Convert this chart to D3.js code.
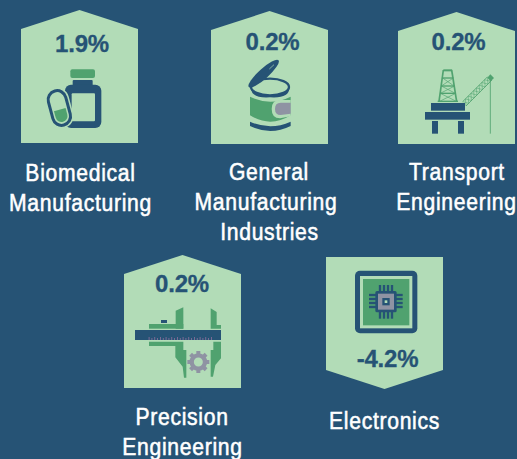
<!DOCTYPE html>
<html><head><meta charset="utf-8">
<script src="https://cdn.jsdelivr.net/npm/d3@7"></script>
<style>html,body{margin:0;padding:0;background:#265375}svg{display:block}</style>
</head><body><svg id="c" width="517" height="459"></svg>
<script>
const categories = [["Biomedical","Manufacturing"],["General","Manufacturing","Industries"],["Transport","Engineering"],["Precision","Engineering"],["Electronics"]];
const values = [1.9,0.2,0.2,0.2,-4.2];
const icons = ["bottle","can","rig","caliper","chip"];

const NAVY="#265375",LIGHT="#b2dcb7",GREEN="#50a26f",GREY="#8f93a3",PURPLE="#8a6f9c";
const layout = [
 {x:21,top:10,h:133,lx:[80.5,80.5],ly:181,vx:82,vy:52,crop:[0,0]},
 {x:211,top:11,h:133,lx:[269,266,269.5],ly:180,vx:272.5,vy:50,crop:[190,0]},
 {x:398,top:12,h:132,lx:[457,456.5],ly:180,vx:458.5,vy:50,crop:[380,0]},
 {x:124,top:255,h:133,lx:[182,182.5],ly:425,vx:182,vy:292,crop:[110,250]},
 {x:326,top:257,h:132,lx:[384.5],ly:429,vx:387.5,vy:367,crop:[310,250]}
];
const W=117,NOTCH=19;
const svg=d3.select("#c");
svg.append("rect").attr("width",517).attr("height",459).attr("fill",NAVY);
const line=d3.line();
const fmt=d3.format(".1f");

function rect(g,x0,y0,x1,y1,f,r){return g.append("rect").attr("x",x0).attr("y",y0).attr("width",x1-x0).attr("height",y1-y0).attr("fill",f).attr("rx",r||0)}
function poly(g,p,f){return g.append("path").attr("d",line(p)+"Z").attr("fill",f)}
function seg(g,a,b,c,w){return g.append("path").attr("d",line([a,b])).attr("stroke",c).attr("stroke-width",w).attr("fill","none")}

const draw={
 bottle(g){
  rect(g,211,208,285,234,GREEN,6);
  rect(g,218,240,278,260,NAVY,3);
  rect(g,195,254,304,384,NAVY,18);
  rect(g,215,280,285,364,LIGHT,3);
  const p=g.append("g").attr("transform","rotate(-15 178 324)");
  rect(p,142,262,214,386,LIGHT,36);
  rect(p,151,271,205,377,LIGHT,27).attr("stroke",NAVY).attr("stroke-width",9);
  p.append("path").attr("d","M160 329H196V349A18 18 0 0 1 160 349Z").attr("fill",GREEN);
 },
 can(g){
  g.append("path").attr("d","M180 290Q241 320 302 290V346Q241 384 180 346Z").attr("fill",GREEN);
  g.append("path").attr("d","M180 365Q241 392 302 365V378Q241 408 180 378Z").attr("fill",NAVY);
  g.append("path").attr("d","M302 300H270Q245 300 245 327Q245 355 270 355L302 349Z").attr("fill",LIGHT);
  g.append("path").attr("d","M302 308H272Q255 308 255 326Q255 345 272 345L302 341Z").attr("fill",GREY);
  g.append("ellipse").attr("cx",240).attr("cy",261).attr("rx",57).attr("ry",25)
   .attr("fill",LIGHT).attr("stroke",NAVY).attr("stroke-width",7);
  g.append("path").attr("d","M183 262Q186 280 240 286Q296 280 298 262Q300 296 240 292Q182 296 183 262Z").attr("fill",NAVY);
  g.append("ellipse").attr("cx",221).attr("cy",221).attr("rx",60).attr("ry",15)
   .attr("transform","rotate(-42 221 221)").attr("fill",NAVY);
  seg(g,[238,207],[252,194],LIGHT,2);
 },
 rig(g){
  const G=GREEN;
  seg(g,[190,210],[177,305],G,5);
  seg(g,[215,210],[230,305],G,5);
  rect(g,190,208,216,214,G);
  rect(g,186,232,220,236,G);
  rect(g,183,256,224,260,G);
  rect(g,180,278,227,282,G);
  seg(g,[188,234],[222,258],G,2);seg(g,[220,234],[184,258],G,2);
  seg(g,[184,258],[226,280],G,2);seg(g,[224,258],[181,280],G,2);
  seg(g,[181,280],[229,304],G,2);seg(g,[227,280],[179,304],G,2);
  rect(g,173,302,234,306,G);
  seg(g,[248,305],[322,231],G,2.5);
  seg(g,[258,318],[336,240],G,2.5);
  d3.range(9).forEach(k=>{
    const t=k/9,ax=248+t*74,ay=305-t*74,bx=ax+10,by=ay+13,cx=ax+8.2+10,cy=ay-8.2+13;
    seg(g,[ax,ay],[cx,cy],G,1.6);
    seg(g,[bx,by],[ax+8.2,ay-8.2],G,1.6);
  });
  poly(g,[[322,233],[331,223],[342,234],[332,244]],G);
  seg(g,[331,240],[331,401],G,2.5);
  rect(g,153,309,255,332,NAVY);
  rect(g,135,336,270,359,NAVY);
  rect(g,156,363,174,401,NAVY);
  rect(g,234,363,252,401,NAVY);
 },
 caliper(g){
  rect(g,117,222,220,236,GREEN);
  poly(g,[[197,182],[220,172],[220,236],[197,236]],GREEN);
  poly(g,[[302,175],[320,186],[320,225],[333,225],[333,236],[302,236]],GREEN);
  rect(g,153,210,171,219,NAVY);
  rect(g,75,240,333,270,NAVY);
  d3.range(116,306,8.5).forEach((x,k)=>rect(g,x,k%2?264:261,x+2.5,270,PURPLE));
  poly(g,[[117,275],[220,275],[220,300],[229,300],[229,383],[222,383],[218,350],[196,322],[196,288],[117,288]],GREEN);
  poly(g,[[310,275],[333,275],[333,325],[316,345],[309,380],[302,380],[302,300],[310,300]],GREEN);
  const c=[265,336];
  d3.range(8).forEach(k=>{
    const a=k*45;
    rect(g,c[0]-6,c[1]-33,c[0]+6,c[1]-20,GREY).attr("transform",`rotate(${a} ${c[0]} ${c[1]})`);
  });
  g.append("circle").attr("cx",c[0]).attr("cy",c[1]).attr("r",20).attr("fill","none").attr("stroke",GREY).attr("stroke-width",13);
  g.append("circle").attr("cx",c[0]).attr("cy",c[1]).attr("r",9).attr("fill",LIGHT);
 },
 chip(g){
  rect(g,135,62,322,250,NAVY,15);
  rect(g,150,78,307,235,LIGHT);
  rect(g,159,87,298,226,GREEN);
  [210,222,234,246].forEach(x=>{rect(g,x-3.5,105,x+3.5,206,NAVY)});
  [135,147,159,171].forEach(y=>{rect(g,177,y-3.5,278,y+3.5,NAVY)});
  rect(g,196,123,260,187,NAVY,5);
  rect(g,204,131,252,179,GREY);
  rect(g,217,144,239,166,NAVY);
  rect(g,224,151,232,159,LIGHT);
 }
};

values.forEach((v,i)=>{
  const L=layout[i],x0=L.x,x1=L.x+W,t=L.top,b=L.top+L.h,m=(x0+x1)/2;
  const pts = v>=0 ? [[m,t],[x1,t+NOTCH],[x1,b],[x0,b],[x0,t+NOTCH]]
                   : [[x0,t],[x1,t],[x1,b-NOTCH],[m,b],[x0,b-NOTCH]];
  svg.append("path").attr("d",line(pts)+"Z").attr("fill",LIGHT);
  const g=svg.append("g").attr("transform",`translate(${L.crop[0]},${L.crop[1]}) scale(${1/3})`);
  draw[icons[i]](g);
  svg.append("text").attr("x",L.vx).attr("y",L.vy).attr("text-anchor","middle")
    .attr("font-family","Liberation Sans").attr("font-weight",700).attr("font-size",24).attr("letter-spacing",-0.2)
    .attr("fill",NAVY).attr("stroke",NAVY).attr("stroke-width",0.3)
    .text(fmt(v).replace("\u2212","-")+"%");
  categories[i].forEach((s,j)=>{
    svg.append("text").attr("transform",`translate(${L.lx[j]},${L.ly+j*30}) scale(0.88,1)`).attr("text-anchor","middle")
      .attr("font-family","Liberation Sans").attr("font-size",24).attr("letter-spacing",0.8).attr("fill","#fff")
      .attr("stroke","#fff").attr("stroke-width",0.55).text(s);
  });
});
</script>
</body></html>
